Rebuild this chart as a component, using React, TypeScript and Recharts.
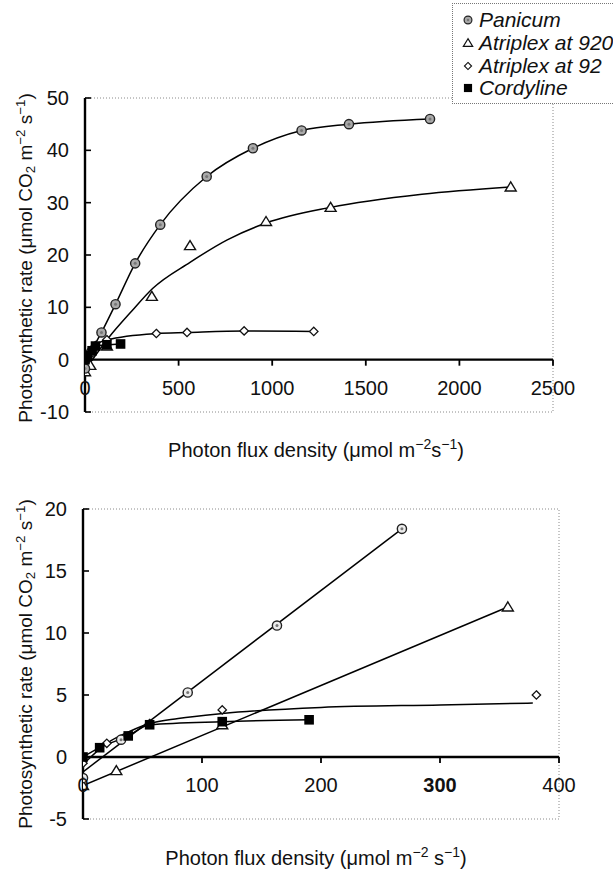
import { ComposedChart, Line, ReferenceArea, ReferenceLine, Scatter, XAxis, YAxis } from "recharts";

type Pt = [number, number];
type MarkKind = "circle" | "triangle" | "diamond" | "square";

// measured points (photon flux, photosynthetic rate)
const panicum: Pt[] = [
  [0, -1.7], [32, 1.4], [88, 5.2], [163, 10.6], [268, 18.4], [402, 25.8],
  [650, 35.0], [897, 40.4], [1157, 43.8], [1410, 45.0], [1843, 46.0],
];
const atriplex920: Pt[] = [
  [0, -2.3], [28, -1.1], [117, 2.6], [357, 12.1], [561, 21.8], [967, 26.4], [1312, 29.1], [2274, 33.0],
];
const atriplex92: Pt[] = [
  [0, -0.5], [20, 1.1], [56, 2.7], [117, 3.8], [381, 5.0], [545, 5.2], [850, 5.5], [1222, 5.4],
];
const cordyline: Pt[] = [[0, 0], [14, 0.75], [38, 1.7], [56, 2.6], [117, 2.85], [190, 3.0]];

// fitted curves
const atriplex920FitTop: Pt[] = [
  [0, -2.0], [124, 4.1], [250, 9.3], [361, 13.6], [561, 18.6], [760, 22.9],
  [967, 26.1], [1312, 29.1], [1800, 31.6], [2274, 33.0],
];
const panicumFitLow: Pt[] = [[0, -1.2], [268, 18.4]];
const atriplex920FitLow: Pt[] = [[0, -2.3], [357, 12.1]];
const atriplex92FitLow: Pt[] = [
  [0, -0.6], [20, 1.1], [40, 2.1], [56, 2.7], [80, 3.1], [117, 3.5], [200, 4.0], [300, 4.2], [378, 4.35],
];

const topXTicks = [0, 500, 1000, 1500, 2000, 2500];
const topYTicks = [-10, 0, 10, 20, 30, 40, 50];
const lowXTicks = [0, 100, 200, 300, 400];
const lowYTicks = [-5, 0, 5, 10, 15, 20];

const legendNames = ["Panicum", "Atriplex at 920", "Atriplex at 92", "Cordyline"];
const legendKinds: MarkKind[] = ["circle", "triangle", "diamond", "square"];

const FONT = '"Liberation Sans", Arial, Helvetica, sans-serif';

const rows = (pts: Pt[]) => pts.map(([x, y]) => ({ x, y }));
const clip = (pts: Pt[], xMax: number, yMax: number) => pts.filter(([x, y]) => x <= xMax && y <= yMax);

function Mark({ kind, cx, cy, fill = "#a9a9a9" }: { kind: MarkKind; cx: number; cy: number; fill?: string }) {
  if (kind === "circle")
    return (
      <g>
        <circle cx={cx} cy={cy} r={4.6} fill={fill} stroke="#222" strokeWidth={1.4} />
        <circle cx={cx} cy={cy} r={1.5} fill="#777" />
      </g>
    );
  if (kind === "triangle")
    return (
      <polygon
        points={`${cx},${cy - 5} ${cx - 5.5},${cy + 4} ${cx + 5.5},${cy + 4}`}
        fill="#fff"
        stroke="#111"
        strokeWidth={1.4}
      />
    );
  if (kind === "diamond")
    return (
      <polygon
        points={`${cx},${cy - 4.2} ${cx + 4.2},${cy} ${cx},${cy + 4.2} ${cx - 4.2},${cy}`}
        fill="#fff"
        stroke="#111"
        strokeWidth={1.3}
      />
    );
  return <rect x={cx - 4.8} y={cy - 4.8} width={9.6} height={9.6} fill="#000" />;
}

type Curve = { pts: Pt[]; type: "monotone" | "linear" };
type Marks = { pts: Pt[]; kind: MarkKind };

type PlotProps = {
  width: number;
  height: number;
  margin: { top: number; right: number; bottom: number; left: number };
  xDomain: [number, number];
  yDomain: [number, number];
  xTicks: number[];
  yTicks: number[];
  curves: Curve[];
  marks: Marks[];
  tickLen: number;
  labelShift: number;
  circleFill: string;
  boldTick?: number;
};

function Plot(p: PlotProps) {
  const YTick = ({ x, y, payload }: any) => (
    <g>
      <line x1={x + 16} x2={x + 22} y1={y} y2={y} stroke="#000" strokeWidth={1.6} />
      <text x={x} y={y} dy="0.35em" textAnchor="end" fontSize={20} fontFamily={FONT} fill="#111">
        {payload.value}
      </text>
    </g>
  );
  const XTick = ({ x, y, payload }: any) => (
    <text
      x={x}
      y={y + p.labelShift}
      dy="0.35em"
      textAnchor="middle"
      fontSize={20}
      fontFamily={FONT}
      fontWeight={payload.value === p.boldTick ? "bold" : "normal"}
      fill="#111"
    >
      {payload.value}
    </text>
  );
  return (
    <ComposedChart width={p.width} height={p.height} margin={p.margin}>
      <XAxis
        type="number"
        dataKey="x"
        domain={p.xDomain}
        ticks={p.xTicks}
        interval={0}
        allowDataOverflow
        axisLine={false}
        tickLine={false}
        tickSize={0}
        tickMargin={0}
        tick={XTick}
      />
      <YAxis
        type="number"
        domain={p.yDomain}
        ticks={p.yTicks}
        interval={0}
        allowDataOverflow
        width={60}
        axisLine={{ stroke: "#000", strokeWidth: 2.4 }}
        tickLine={false}
        tickSize={0}
        tickMargin={16}
        tick={YTick}
      />
      <ReferenceArea
        x1={p.xDomain[0]}
        x2={p.xDomain[1]}
        y1={p.yDomain[0]}
        y2={p.yDomain[1]}
        fill="none"
        stroke="#8a8a8a"
        strokeDasharray="1 2"
      />
      <ReferenceLine y={0} stroke="#000" strokeWidth={2.4} />
      {p.xTicks.map((t) => (
        <ReferenceLine
          key={t}
          segment={[{ x: t, y: 0 }, { x: t, y: -p.tickLen }]}
          stroke="#000"
          strokeWidth={1.8}
        />
      ))}
      {p.curves.map((c, i) => (
        <Line
          key={`c${i}`}
          data={rows(c.pts)}
          dataKey="y"
          type={c.type}
          stroke="#000"
          strokeWidth={1.5}
          dot={false}
          isAnimationActive={false}
        />
      ))}
      {p.marks.map((m, i) => (
        <Scatter
          key={`m${i}`}
          data={rows(m.pts)}
          dataKey="y"
          isAnimationActive={false}
          shape={(s: any) => <Mark kind={m.kind} cx={s.cx} cy={s.cy} fill={p.circleFill} />}
        />
      ))}
    </ComposedChart>
  );
}

const sup = { fontSize: "0.7em", verticalAlign: "0.55em", lineHeight: 0 } as const;
const sub = { fontSize: "0.7em", verticalAlign: "-0.25em", lineHeight: 0 } as const;

function XTitle({ top, spaced }: { top: number; spaced: boolean }) {
  return (
    <div style={{ position: "absolute", left: 0, width: 632, top: top - 12, textAlign: "center", fontSize: 20, fontFamily: FONT, color: "#111", lineHeight: "24px" }}>
      Photon flux density (μmol m<span style={sup}>−2</span>
      {spaced ? " " : ""}s<span style={sup}>−1</span>)
    </div>
  );
}

function YTitle({ center }: { center: number }) {
  return (
    <div
      style={{
        position: "absolute",
        left: 26 - 200,
        top: center - 12,
        width: 400,
        textAlign: "center",
        transform: "rotate(-90deg)",
        fontSize: 19,
        fontFamily: FONT,
        color: "#111",
        lineHeight: "24px",
        whiteSpace: "nowrap",
      }}
    >
      Photosynthetic rate (μmol CO<span style={sub}>2</span> m<span style={sup}>−2</span> s<span style={sup}>−1</span>)
    </div>
  );
}

function LegendBox() {
  return (
    <div
      style={{
        position: "absolute",
        left: 452,
        top: 3,
        width: 175,
        height: 101,
        boxSizing: "border-box",
        border: "1px dotted #777",
        background: "#fff",
        paddingTop: 5,
        fontFamily: FONT,
        fontStyle: "italic",
        fontSize: 21,
        color: "#111",
      }}
    >
      {legendNames.map((n, i) => (
        <div key={n} style={{ display: "flex", alignItems: "center", height: 22.7, whiteSpace: "nowrap" }}>
          <svg width={14} height={14} style={{ marginLeft: 8, marginRight: 4 }}>
            <g transform="translate(7,7) scale(0.85) translate(-7,-7)">
              <Mark kind={legendKinds[i]} cx={7} cy={7} fill="#a9a9a9" />
            </g>
          </svg>
          {n}
        </div>
      ))}
    </div>
  );
}

export default function App() {
  return (
    <div style={{ position: "absolute", left: 0, top: 0, width: 613, height: 873, overflow: "hidden", background: "#fff" }}>
      <div style={{ position: "absolute", left: 0, top: 0 }}>
        <Plot
          width={613}
          height={480}
          margin={{ top: 98, right: 60, bottom: 38, left: 25 }}
          xDomain={[0, 2500]}
          yDomain={[-10, 50]}
          xTicks={topXTicks}
          yTicks={topYTicks}
          tickLen={1.15}
          labelShift={-24}
          circleFill="#a9a9a9"
          curves={[
            { pts: panicum, type: "monotone" },
            { pts: atriplex920FitTop, type: "monotone" },
            { pts: atriplex92, type: "monotone" },
            { pts: cordyline, type: "monotone" },
          ]}
          marks={[
            { pts: atriplex92, kind: "diamond" },
            { pts: atriplex920, kind: "triangle" },
            { pts: panicum, kind: "circle" },
            { pts: cordyline, kind: "square" },
          ]}
        />
      </div>
      <div style={{ position: "absolute", left: 0, top: 460 }}>
        <Plot
          width={613}
          height={413}
          margin={{ top: 49, right: 54, bottom: 24, left: 23 }}
          xDomain={[0, 400]}
          yDomain={[-5, 20]}
          xTicks={lowXTicks}
          yTicks={lowYTicks}
          tickLen={0.48}
          labelShift={-34}
          circleFill="#ececec"
          boldTick={300}
          curves={[
            { pts: panicumFitLow, type: "linear" },
            { pts: atriplex920FitLow, type: "linear" },
            { pts: atriplex92FitLow, type: "monotone" },
            { pts: cordyline, type: "monotone" },
          ]}
          marks={[
            { pts: clip(atriplex92, 400, 20), kind: "diamond" },
            { pts: clip(atriplex920, 400, 20), kind: "triangle" },
            { pts: clip(panicum, 400, 20), kind: "circle" },
            { pts: clip(cordyline, 400, 20), kind: "square" },
          ]}
        />
      </div>
      <XTitle top={450} spaced={false} />
      <XTitle top={858} spaced={true} />
      <YTitle center={258} />
      <YTitle center={664} />
      <LegendBox />
    </div>
  );
}
